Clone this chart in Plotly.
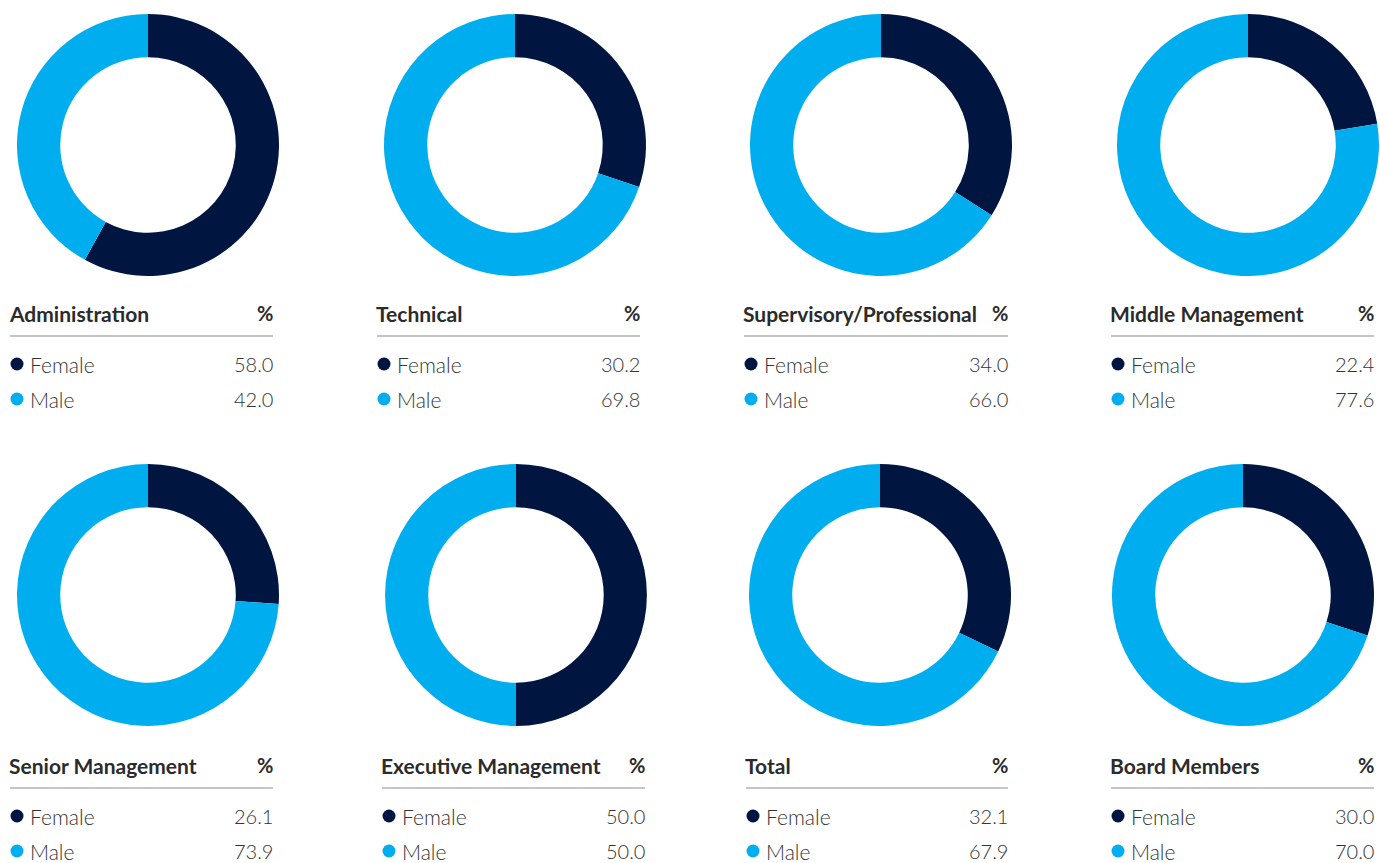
import plotly.graph_objects as go

categories = ["Administration", "Technical", "Supervisory/Professional", "Middle Management",
              "Senior Management", "Executive Management", "Total", "Board Members"]
female = [58.0, 30.2, 34.0, 22.4, 26.1, 50.0, 32.1, 30.0]
male = [42.0, 69.8, 66.0, 77.6, 73.9, 50.0, 67.9, 70.0]
labels = ["Female", "Male"]

W, H = 1380, 863
NAVY = "#001641"
BLUE = "#00AEEF"
TEXT = "#2b2b2b"
BODY = "#333333"
FONT = "Lato"

# layout geometry (pixels from top-left)
centers = [(148, 145), (515, 145), (881, 145), (1248, 145),
           (148, 595), (516, 595), (880, 595), (1243, 595)]
R = 131
tables = [(10, 273, 313), (377, 640, 313), (744, 1008, 313), (1111, 1374, 313),
          (10, 273, 765), (382, 645, 765), (746, 1008, 765), (1111, 1374, 765)]

fig = go.Figure()
annotations = []
shapes = []
dot_x, dot_y, dot_c = [], [], []

for i, cat in enumerate(categories):
    cx, cy = centers[i]
    fig.add_trace(go.Pie(
        labels=labels, values=[female[i], male[i]],
        marker=dict(colors=[NAVY, BLUE], line=dict(width=0)),
        hole=0.67, sort=False, direction="clockwise", rotation=0,
        textinfo="none", hoverinfo="label+percent", showlegend=False,
        domain=dict(x=[(cx - R) / W, (cx + R) / W],
                    y=[(H - cy - R) / H, (H - cy + R) / H]),
    ))
    x0, x1, ty = tables[i]
    annotations.append(dict(x=x0 - 3, y=ty, text="<b>%s</b>" % cat, xref="x", yref="y",
                            xanchor="left", yanchor="middle", showarrow=False,
                            font=dict(family=FONT, size=21, color=TEXT)))
    annotations.append(dict(x=x1 + 2, y=ty, text="<b>%</b>", xref="x", yref="y",
                            xanchor="right", yanchor="middle", showarrow=False,
                            font=dict(family=FONT, size=20, color=TEXT)))
    shapes.append(dict(type="line", xref="x", yref="y", x0=x0, x1=x1, y0=ty + 23, y1=ty + 23,
                       line=dict(color="#8c8c8c", width=1.2)))
    for j, (lab, val, col) in enumerate([("Female", female[i], NAVY), ("Male", male[i], BLUE)]):
        ry = ty + 51 + 35 * j
        dot_x.append(x0 + 7)
        dot_y.append(ry)
        dot_c.append(col)
        annotations.append(dict(x=x0 + 18, y=ry, text=lab, xref="x", yref="y",
                                xanchor="left", yanchor="middle", showarrow=False,
                                font=dict(family=FONT, size=21, color=BODY, weight=300)))
        annotations.append(dict(x=x1 + 2, y=ry, text="%.1f" % val, xref="x", yref="y",
                                xanchor="right", yanchor="middle", showarrow=False,
                                font=dict(family=FONT, size=20, color=BODY, weight=300)))

fig.add_trace(go.Scatter(x=dot_x, y=dot_y, mode="markers",
                         marker=dict(size=13, color=dot_c, line=dict(width=0)),
                         hoverinfo="skip", showlegend=False))

fig.update_layout(
    width=W, height=H, margin=dict(l=0, r=0, t=0, b=0),
    paper_bgcolor="white", plot_bgcolor="rgba(0,0,0,0)",
    xaxis=dict(range=[0, W], visible=False, fixedrange=True, domain=[0, 1]),
    yaxis=dict(range=[H, 0], visible=False, fixedrange=True, domain=[0, 1]),
    annotations=annotations, shapes=shapes,
)
fig.write_html("out.html", config={"displayModeBar": False},
               post_script="document.body.style.margin='0';document.body.style.overflow='hidden';")
